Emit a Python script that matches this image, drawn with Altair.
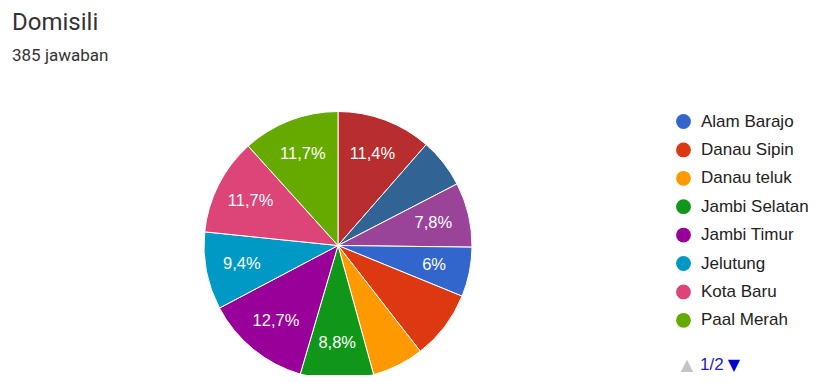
import altair as alt
import pandas as pd

# Data (clockwise from 12 o'clock)
names = ["Pasar Jambi", "Pelayangan", "Telanaipura", "Alam Barajo", "Danau Sipin",
         "Danau teluk", "Jambi Selatan", "Jambi Timur", "Jelutung", "Kota Baru", "Paal Merah"]
counts = [44, 23, 30, 23, 32, 24, 34, 49, 36, 45, 45]
labels = ["11,4%", "", "7,8%", "6%", "", "", "8,8%", "12,7%", "9,4%", "11,7%", "11,7%"]
legend_names = ["Alam Barajo", "Danau Sipin", "Danau teluk", "Jambi Selatan",
                "Jambi Timur", "Jelutung", "Kota Baru", "Paal Merah"]
legend_colors = ["#3366cc", "#dc3912", "#ff9900", "#109618",
                 "#990099", "#0099c6", "#dd4477", "#66aa00"]
page2_names = ["Pasar Jambi", "Pelayangan", "Telanaipura"]
page2_colors = ["#b82e2e", "#316395", "#994499"]

df = pd.DataFrame({"name": names, "count": counts, "label": labels,
                   "ord": list(range(len(names)))})

CX, CY, R = 330, 237.5, 134

base = alt.Chart(df).encode(
    theta=alt.Theta("count:Q", stack=True),
    order=alt.Order("ord:Q"),
)

arcs = base.mark_arc(outerRadius=R, stroke="white", strokeWidth=1).encode(
    x=alt.value(CX), y=alt.value(CY),
    color=alt.Color(
        "name:N",
        scale=alt.Scale(domain=legend_names + page2_names,
                        range=legend_colors + page2_colors),
        legend=alt.Legend(
            title=None, orient="none", legendX=667, legendY=105, padding=0,
            values=legend_names, symbolType="circle", symbolSize=220,
            symbolStrokeWidth=0, symbolOpacity=1, labelFont="Liberation Sans",
            labelFontSize=17, labelColor="#222222", labelOffset=9, rowPadding=10.4,
        ),
    ),
)

pie_text = base.mark_text(radius=98, font="Liberation Sans", fontSize=16.5,
                          align="center", baseline="middle").encode(
    x=alt.value(CX), y=alt.value(CY),
    text="label:N", color=alt.value("white"),
)

title_txt = alt.Chart(pd.DataFrame({"t": ["Domisili"]})).mark_text(
    font="Roboto", fontSize=24, color="#333333", align="left", baseline="alphabetic"
).encode(text="t:N", x=alt.value(4), y=alt.value(21.5))

sub_txt = alt.Chart(pd.DataFrame({"t": ["385 jawaban"]})).mark_text(
    font="Roboto", fontSize=17, color="#333333", align="left", baseline="alphabetic"
).encode(text="t:N", x=alt.value(4), y=alt.value(53))

pg_up = alt.Chart(pd.DataFrame({"t": ["▲"]})).mark_text(
    font="DejaVu Sans", fontSize=16, color="#c4c4c4", align="center", baseline="alphabetic"
).encode(text="t:N", x=alt.value(679), y=alt.value(362))

pg_num = alt.Chart(pd.DataFrame({"t": ["1/2"]})).mark_text(
    font="Liberation Sans", fontSize=17, color="#2222bb", align="left", baseline="alphabetic"
).encode(text="t:N", x=alt.value(692), y=alt.value(362))

pg_dn = alt.Chart(pd.DataFrame({"t": ["▼"]})).mark_text(
    font="DejaVu Sans", fontSize=16, color="#0000cc", align="center", baseline="alphabetic"
).encode(text="t:N", x=alt.value(726), y=alt.value(362))

chart = alt.layer(arcs, pie_text, title_txt, sub_txt, pg_up, pg_num, pg_dn).properties(
    width=800, height=367, autosize=alt.AutoSizeParams(type="none"), padding=0,
    background="white",
).configure_view(stroke=None)

chart.save("out.html", embed_options={"renderer": "svg", "actions": False})
